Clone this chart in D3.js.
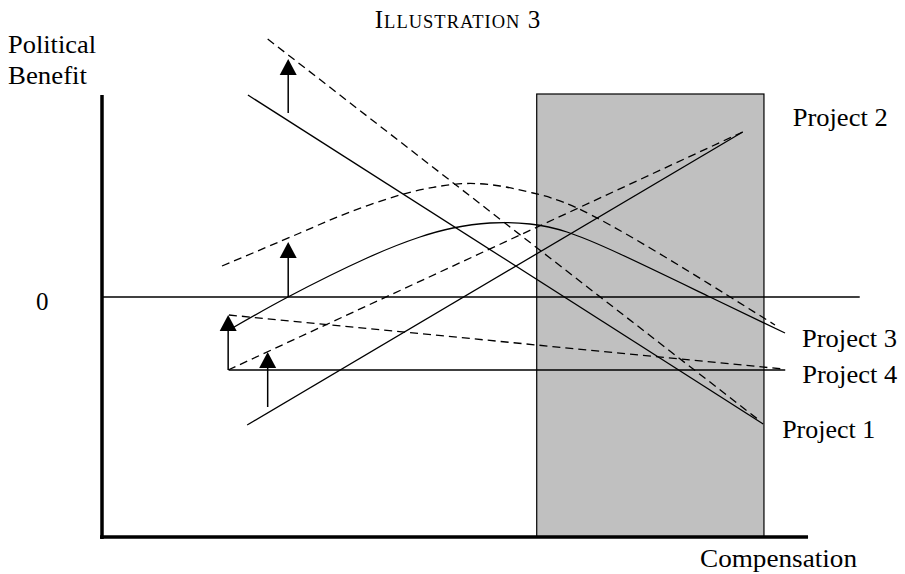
<!DOCTYPE html>
<html>
<head>
<meta charset="utf-8">
<script src="https://cdn.jsdelivr.net/npm/d3@7"></script>
<style>
  body { margin: 0; background: #fff; }
  text { font-family: "Liberation Serif", "Times New Roman", serif; fill: #000; }
</style>
</head>
<body>
<svg id="chart" width="905" height="574"></svg>
<script>
// values: x = compensation, y = political benefit
var project1      = [[19.2, 50.5], [87.0, -31.75]];
var project1Shift = [[21.8, 64.5], [86.6, -31.0]];
var project2      = [[19.1, -32.0], [84.3, 41.25]];
var project2Shift = [[16.6, -18.25], [84.3, 41.25]];
var project3      = [[16.71, -8.25], [24.47, 0], [34.87, 9.75], [41.84, 15], [46.18, 17.25],
                     [51.05, 18.5], [56.32, 18.25], [61.18, 16.25], [68.16, 10.75],
                     [80.0, 0], [89.87, -9.0]];
var project3Shift = [[15.79, 7.75], [26.05, 16], [32.63, 21.25], [39.21, 25.5], [43.82, 27.5],
                     [48.03, 28.375], [52.37, 27.75], [56.71, 26], [62.5, 22.25],
                     [72.11, 12.25], [82.24, 0.5], [88.55, -7.0]];
var project4      = [[16.7, -18.25], [89.9, -18.25]];
var project4Shift = [[16.7, -4.5], [89.6, -18.0]];

// arrows: x, from, to
var arrows = [[24.5, 46, 59.5], [24.5, 0, 13.75], [16.6, -18.25, -4.5], [21.8, -27.5, -13.75]];

// shaded compensation band
var band = [57.2, 87.1];

var axisEnd = 92.9, zeroEnd = 99.7, yMin = -60, yTop = 50.5, yBandTop = 50.75;

var svg = d3.select("#chart");

var x = d3.scaleLinear().domain([0, 100]).range([102, 862]);
var y = d3.scaleLinear().domain([-60, 51]).range([537, 93]);

var line = d3.line().x(function(d){ return x(d[0]); }).y(function(d){ return y(d[1]); });
var curve = d3.line().x(function(d){ return x(d[0]); }).y(function(d){ return y(d[1]); }).curve(d3.curveNatural);

// grey band
svg.append("rect")
  .attr("x", x(band[0]))
  .attr("y", y(yBandTop))
  .attr("width", x(band[1]) - x(band[0]))
  .attr("height", y(yMin) - y(yBandTop))
  .attr("fill", "#c0c0c0")
  .attr("stroke", "#000")
  .attr("stroke-width", 1.2);

// zero line
svg.append("line")
  .attr("x1", x(0)).attr("x2", x(zeroEnd))
  .attr("y1", y(0)).attr("y2", y(0))
  .attr("stroke", "#000").attr("stroke-width", 1.3);

// axes
svg.append("line")
  .attr("x1", x(0)).attr("x2", x(0))
  .attr("y1", y(yTop)).attr("y2", y(yMin) + 2)
  .attr("stroke", "#000").attr("stroke-width", 3.5);
svg.append("line")
  .attr("x1", x(0) - 2).attr("x2", x(axisEnd))
  .attr("y1", y(yMin)).attr("y2", y(yMin))
  .attr("stroke", "#000").attr("stroke-width", 3.5);

var solid = [project1, project2, project4];
var dashed = [project1Shift, project2Shift, project4Shift];

solid.forEach(function(d){
  svg.append("path").attr("d", line(d))
    .attr("fill", "none").attr("stroke", "#000").attr("stroke-width", 1.3);
});
dashed.forEach(function(d){
  svg.append("path").attr("d", line(d))
    .attr("fill", "none").attr("stroke", "#000").attr("stroke-width", 1.3)
    .attr("stroke-dasharray", "8,5");
});

svg.append("path").attr("d", curve(project3))
  .attr("fill", "none").attr("stroke", "#000").attr("stroke-width", 1.3);
svg.append("path").attr("d", curve(project3Shift))
  .attr("fill", "none").attr("stroke", "#000").attr("stroke-width", 1.3)
  .attr("stroke-dasharray", "8,5");

// arrows
var headW = 8.5, headH = 16;
arrows.forEach(function(a){
  var ax = x(a[0]), y0 = y(a[1]), y1 = y(a[2]);
  svg.append("line")
    .attr("x1", ax).attr("x2", ax)
    .attr("y1", y0).attr("y2", y1 + headH - 1)
    .attr("stroke", "#000").attr("stroke-width", 1.5);
  svg.append("path")
    .attr("d", "M" + ax + "," + y1 + "L" + (ax + headW) + "," + (y1 + headH) + "L" + (ax - headW) + "," + (y1 + headH) + "Z")
    .attr("fill", "#000");
});

// labels
var fs = 25;
function label(px, py, str, len){
  var t = svg.append("text").attr("x", px).attr("y", py).attr("font-size", fs).text(str);
  if (len) t.attr("textLength", len).attr("lengthAdjust", "spacingAndGlyphs");
  return t;
}

label(x(project2[1][0]) + 50, y(project2[1][1]) - 6, "Project 2", 95);
label(x(project3[10][0]) + 17, y(project3[10][1]) + 14, "Project 3", 95);
label(x(project4[1][0]) + 17, y(project4[1][1]) + 13, "Project 4", 95);
label(x(project1[1][0]) + 19, y(project1[1][1]) + 14, "Project 1", 93);

label(8, 53, "Political", 88);
label(8, 84, "Benefit", 79);
label(36, 310, "0");
label(700, 567, "Compensation", 157);

var title = svg.append("text").attr("x", 458).attr("y", 28)
  .attr("text-anchor", "middle").attr("letter-spacing", 1);
title.append("tspan").attr("font-size", 25).text("I");
title.append("tspan").attr("font-size", 18.5).text("LLUSTRATION");
title.append("tspan").attr("font-size", 25).text(" 3");
</script>
</body>
</html>
